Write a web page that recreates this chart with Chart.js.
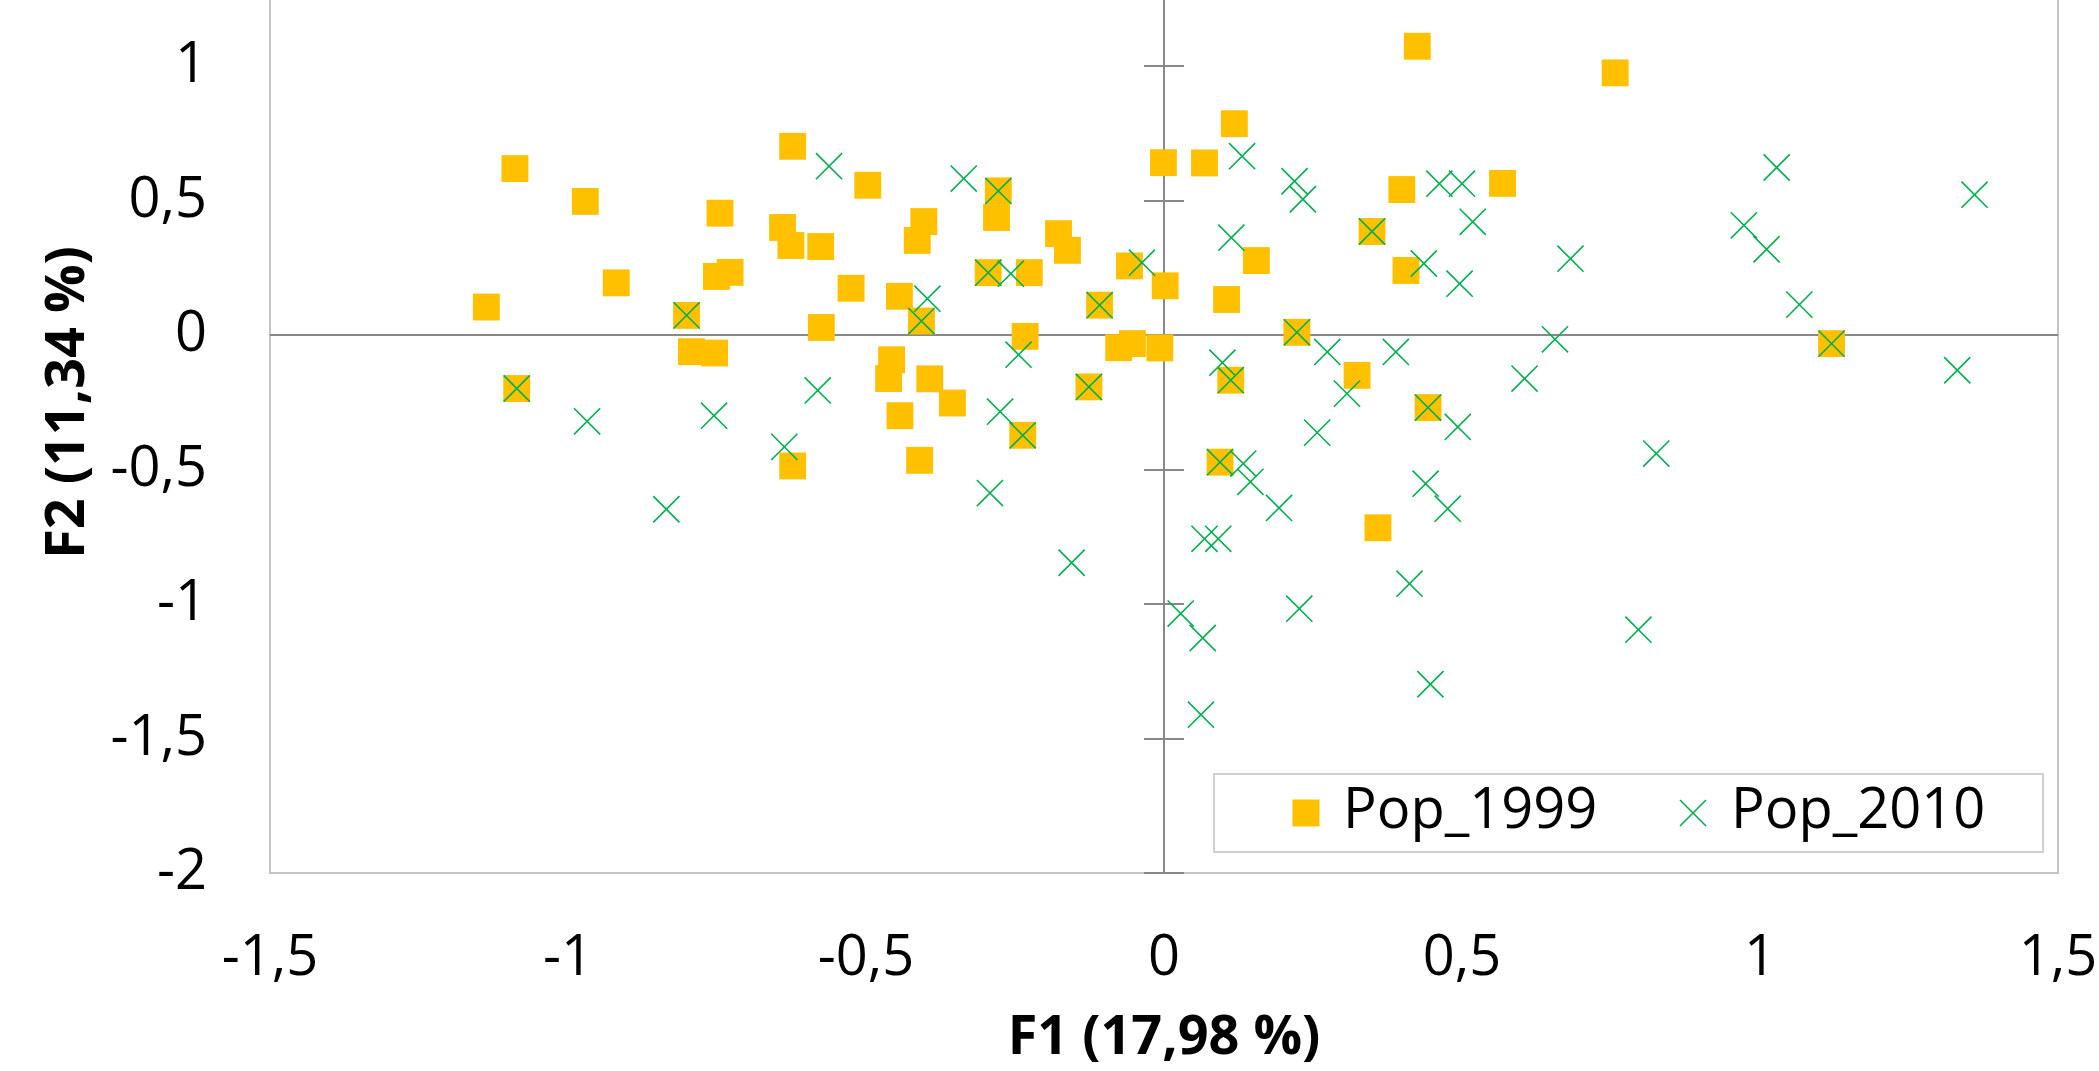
<!DOCTYPE html>
<html lang="fr">
<head>
<meta charset="UTF-8">
<title>ACP F1 x F2</title>
<script src="https://cdn.jsdelivr.net/npm/chart.js@4"></script>
<style>
  body { margin: 0; background: #fff; overflow: hidden; }
  .cadre { position: relative; width: 2099px; height: 1071px; overflow: hidden; }
  #acp { position: absolute; left: 0; top: -68px; }
</style>
</head>
<body>
<div class="cadre"><canvas id="acp" width="2099" height="1139"></canvas></div>
<script>
// coordonnées (F1 en x, F2 en y)
const pop1999_f1 = [-1.137, -1.089, -1.086, -0.971, -0.919, -0.801, -0.793, -0.754, -0.751, -0.745,
  -0.728, -0.640, -0.626, -0.623, -0.623, -0.576, -0.575, -0.525, -0.497, -0.457,
  -0.462, -0.444, -0.443, -0.414, -0.407, -0.403, -0.410, -0.393, -0.355, -0.295,
  -0.278, -0.281, -0.237, -0.233, -0.226, -0.177, -0.162, -0.108, -0.126, -0.076,
  -0.058, -0.053, -0.007, -0.001, 0.002, 0.068, 0.094, 0.105, 0.112, 0.118,
  0.155, 0.223, 0.324, 0.349, 0.359, 0.406, 0.399, 0.425, 0.443, 0.568,
  0.757, 1.120];
const pop1999_f2 = [0.105, 0.620, -0.198, 0.498, 0.195, 0.074, -0.061, -0.066, 0.219, 0.454,
  0.234, 0.401, 0.334, 0.703, -0.486, 0.330, 0.029, 0.175, 0.558, -0.091,
  -0.161, 0.145, -0.299, 0.353, 0.053, 0.423, -0.465, -0.162, -0.252, 0.233,
  0.537, 0.438, -0.372, -0.004, 0.233, 0.378, 0.316, 0.112, -0.192, -0.046,
  0.258, -0.031, -0.047, 0.642, 0.184, 0.641, -0.472, 0.133, -0.167, 0.787,
  0.278, 0.011, -0.149, 0.386, -0.716, 0.241, 0.542, 1.075, -0.269, 0.565,
  0.976, -0.031];

const pop2010_f1 = [-1.086, -0.968, -0.835, -0.801, -0.755, -0.637, -0.581, -0.562, -0.407, -0.397,
  -0.336, -0.295, -0.292, -0.278, -0.275, -0.257, -0.244, -0.237, -0.155, -0.126,
  -0.108, -0.037, 0.028, 0.062, 0.065, 0.068, 0.091, 0.094, 0.098, 0.112,
  0.113, 0.131, 0.133, 0.145, 0.193, 0.219, 0.223, 0.227, 0.233, 0.257,
  0.274, 0.307, 0.349, 0.389, 0.412, 0.436, 0.439, 0.443, 0.447, 0.462,
  0.476, 0.493, 0.496, 0.500, 0.518, 0.605, 0.656, 0.682, 0.796, 0.826,
  0.973, 1.011, 1.028, 1.066, 1.120, 1.331, 1.360];
const pop2010_f2 = [-0.198, -0.320, -0.647, 0.074, -0.299, -0.415, -0.205, 0.629, 0.053, 0.136,
  0.583, 0.233, -0.587, 0.537, -0.284, 0.229, -0.072, -0.372, -0.846, -0.192,
  0.112, 0.270, -1.035, -1.411, -1.126, -0.757, -0.757, -0.472, -0.102, -0.167,
  0.363, 0.666, -0.477, -0.545, -0.642, 0.573, 0.011, -1.017, 0.506, -0.362,
  -0.062, -0.217, 0.386, -0.062, -0.924, 0.267, -0.552, -0.269, -1.298, 0.564,
  -0.645, -0.341, 0.192, 0.564, 0.422, -0.161, -0.015, 0.285, -1.095, -0.440,
  0.409, 0.320, 0.624, 0.114, -0.031, -0.130, 0.523];

const seriesNames = ['Pop_1999', 'Pop_2010'];
const f1Ticks = [-1.5, -1, -0.5, 0, 0.5, 1, 1.5];
const f2Ticks = [-2, -1.5, -1, -0.5, 0, 0.5, 1, 1.5];
const titreF1 = 'F1 (17,98 %)';
const titreF2 = 'F2 (11,34 %)';

const jaune = '#FFC000';
const vert = '#00B050';
const police = 'Open Sans';

function pts(xs, ys) {
  return xs.map(function(x, i) { return {x: x, y: ys[i]}; });
}
function virgule(v) {
  return String(v).replace('.', ',');
}

// cadre, axes passant par zéro et graduations sur l'axe vertical
const axesCroises = {
  id: 'axesCroises',
  beforeDatasetsDraw(chart) {
    const {ctx, chartArea: a, scales: {x, y}} = chart;
    ctx.save();
    ctx.strokeStyle = '#c4c4c4';
    ctx.lineWidth = 2;
    ctx.strokeRect(a.left, a.top, a.right - a.left, a.bottom - a.top);
    const x0 = Math.round(x.getPixelForValue(0));
    const y0 = Math.round(y.getPixelForValue(0));
    ctx.strokeStyle = '#898989';
    ctx.beginPath();
    ctx.moveTo(a.left, y0); ctx.lineTo(a.right, y0);
    ctx.moveTo(x0, a.top); ctx.lineTo(x0, a.bottom);
    y.ticks.forEach(function(t) {
      const py = Math.round(y.getPixelForValue(t.value));
      ctx.moveTo(x0 - 20, py); ctx.lineTo(x0 + 20, py);
    });
    ctx.stroke();
    ctx.restore();
  }
};

// légende dans la zone de tracé, en bas à droite
const legendeCadre = {
  id: 'legendeCadre',
  afterDraw(chart) {
    const {ctx, chartArea: a} = chart;
    const bx = a.right - 844, by = a.bottom - 99, bw = 829, bh = 78;
    const cy = by + 39;
    ctx.save();
    ctx.fillStyle = '#fff';
    ctx.fillRect(bx, by, bw, bh);
    ctx.strokeStyle = '#d0d0d0';
    ctx.lineWidth = 2;
    ctx.strokeRect(bx, by, bw, bh);

    ctx.fillStyle = jaune;
    ctx.fillRect(bx + 92 - 13.5, cy - 13.5, 27, 27);

    ctx.strokeStyle = vert;
    ctx.lineWidth = 1.6;
    ctx.beginPath();
    ctx.moveTo(bx + 479 - 13, cy - 13); ctx.lineTo(bx + 479 + 13, cy + 13);
    ctx.moveTo(bx + 479 - 13, cy + 13); ctx.lineTo(bx + 479 + 13, cy - 13);
    ctx.stroke();

    ctx.fillStyle = '#000';
    ctx.font = '56px "' + police + '"';
    ctx.textBaseline = 'middle';
    ctx.fillText(chart.data.datasets[0].label, bx + 129, cy - 1);
    ctx.fillText(chart.data.datasets[1].label, bx + 517, cy - 1);
    ctx.restore();
  }
};

new Chart(document.getElementById('acp'), {
  type: 'scatter',
  data: {
    datasets: [{
      label: seriesNames[0],
      data: pts(pop1999_f1, pop1999_f2),
      pointStyle: 'rect',
      pointRadius: 19,
      pointBackgroundColor: jaune,
      pointBorderColor: jaune,
      pointBorderWidth: 0,
      order: 2
    }, {
      label: seriesNames[1],
      data: pts(pop2010_f1, pop2010_f2),
      pointStyle: 'crossRot',
      pointRadius: 18.5,
      pointBackgroundColor: vert,
      pointBorderColor: vert,
      pointBorderWidth: 1.6,
      order: 1
    }]
  },
  options: {
    responsive: false,
    animation: false,
    events: [],
    layout: { autoPadding: false, padding: { left: 0, right: 41, top: 0, bottom: 0 } },
    plugins: {
      legend: { display: false },
      tooltip: { enabled: false }
    },
    scales: {
      x: {
        type: 'linear',
        position: 'bottom',
        min: -1.5,
        max: 1.5,
        grid: { display: false, drawTicks: false },
        border: { display: false },
        afterBuildTicks: function(s) { s.ticks = f1Ticks.map(function(v) { return {value: v}; }); },
        afterFit: function(s) { s.height = 198; s.paddingLeft = 0; s.paddingRight = 0; },
        ticks: {
          padding: 52, autoSkip: false, maxRotation: 0, color: '#000',
          font: { family: police, size: 56 },
          callback: function(v) { return virgule(v); }
        },
        title: {
          display: true, text: titreF1, color: '#000',
          font: { family: police, size: 54, weight: 'bold' },
          padding: { top: 0, bottom: 0 }
        }
      },
      y: {
        type: 'linear',
        position: 'left',
        min: -2,
        max: 1.5,
        grid: { display: false, drawTicks: false },
        border: { display: false },
        afterBuildTicks: function(s) { s.ticks = f2Ticks.map(function(v) { return {value: v}; }); },
        afterFit: function(s) { s.width = 270; s.paddingTop = 0; s.paddingBottom = 0; },
        ticks: {
          padding: 63, autoSkip: false, color: '#000',
          font: { family: police, size: 56 },
          callback: function(v) { return virgule(v); }
        },
        title: {
          display: true, text: titreF2, color: '#000',
          font: { family: police, size: 54, weight: 'bold' },
          padding: { top: 36, bottom: 0 }
        }
      }
    }
  },
  plugins: [axesCroises, legendeCadre]
});
</script>
</body>
</html>
